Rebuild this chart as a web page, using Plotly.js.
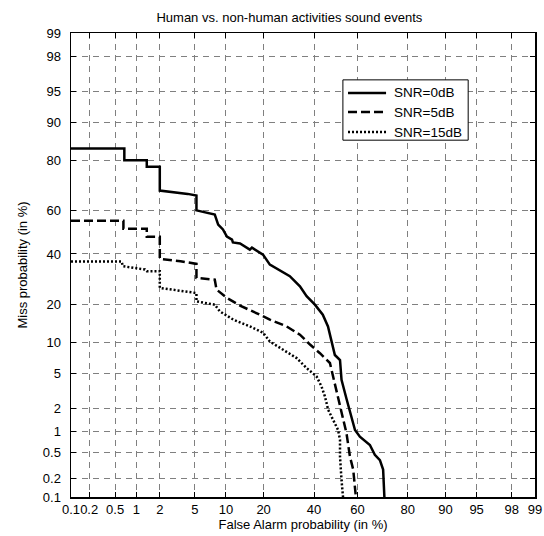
<!DOCTYPE html>
<html>
<head>
<meta charset="utf-8">
<script src="https://cdn.plot.ly/plotly-3.0.1.min.js"></script>
<style>html,body{margin:0;padding:0;background:#fff;}#chart{width:544px;height:536px;}</style>
</head>
<body>
<div id="chart"></div>
<script>
// Tick labels (percent)
const tickValues = [0.1, 0.2, 0.5, 1, 2, 5, 10, 20, 40, 60, 80, 90, 95, 98, 99];
const tickLabels = ["0.1", "0.2", "0.5", "1", "2", "5", "10", "20", "40", "60", "80", "90", "95", "98", "99"];

// SNR=0dB (false alarm %, miss %)
const fa0 = [0.1, 0.68, 0.68, 1.37, 1.37, 2.0, 2.0, 3.0, 4.2, 5.2, 5.2, 7.9, 8.5, 9.4, 10.2, 11.3, 11.5, 13.2, 15.8, 16.4, 18.8, 19.8, 22.1, 29.6, 33.8, 36.7, 40.4, 44.0, 46.4, 48.7, 49.6, 52.0, 52.7, 55.0, 57.3, 58.9, 61.1, 65.5, 67.6, 69.7, 71.0, 71.5];
const miss0 = [83.6, 83.6, 80.0, 80.0, 77.8, 77.8, 68.7, 68.0, 67.3, 66.6, 60.1, 58.2, 53.6, 51.3, 48.0, 46.6, 45.3, 44.8, 42.0, 42.9, 40.6, 39.7, 35.3, 30.4, 26.4, 22.8, 19.9, 16.8, 13.6, 9.2, 7.6, 6.8, 4.25, 2.6, 1.57, 1.05, 0.85, 0.65, 0.47, 0.39, 0.28, 0.1];

// SNR=5dB
const fa5 = [0.1, 0.66, 0.66, 1.37, 1.37, 2.0, 2.0, 3.5, 5.2, 5.2, 7.9, 8.2, 10.1, 13.2, 18.8, 22.1, 28.3, 33.8, 38.2, 42.7, 47.3, 48.8, 50.4, 52.0, 53.5, 55.0, 56.6, 58.1, 59.3];
const miss5 = [55.3, 55.3, 51.6, 51.6, 47.9, 47.9, 37.8, 36.8, 35.6, 29.7, 29.0, 25.2, 22.3, 19.6, 16.8, 15.4, 13.6, 11.6, 9.5, 7.9, 6.35, 4.6, 3.3, 2.1, 1.43, 0.95, 0.44, 0.28, 0.1];

// SNR=15dB
const fa15 = [0.1, 0.62, 0.65, 1.3, 1.37, 2.0, 2.0, 5.2, 5.2, 7.9, 8.8, 11.6, 15.8, 19.9, 22.1, 27.0, 32.4, 36.7, 41.2, 43.4, 45.0, 46.5, 48.1, 49.6, 51.1, 52.0, 52.0, 52.7, 53.4];
const miss15 = [36.7, 36.7, 34.6, 33.2, 32.5, 32.5, 25.8, 23.9, 21.0, 19.9, 17.8, 15.4, 13.6, 12.0, 10.1, 8.5, 7.1, 5.65, 4.6, 3.6, 2.76, 1.91, 1.57, 1.29, 1.05, 0.77, 0.44, 0.19, 0.1];

const seriesNames = ["SNR=0dB", "SNR=5dB", "SNR=15dB"];

// Inverse standard normal CDF (Acklam) for the normal-deviate DET scale
function probit(p) {
  const a = [-3.969683028665376e+01, 2.209460984245205e+02, -2.759285104469687e+02, 1.383577518672690e+02, -3.066479806614716e+01, 2.506628277459239e+00];
  const b = [-5.447609879822406e+01, 1.615858368580409e+02, -1.556989798598866e+02, 6.680131188771972e+01, -1.328068155288572e+01];
  const c = [-7.784894002430293e-03, -3.223964580411365e-01, -2.400758277161838e+00, -2.549732539343734e+00, 4.374664141464968e+00, 2.938163982698783e+00];
  const d = [7.784695709041462e-03, 3.224671290700398e-01, 2.445134137142996e+00, 3.754408661907416e+00];
  const pl = 0.02425, ph = 1 - pl;
  let q, r;
  if (p < pl) {
    q = Math.sqrt(-2 * Math.log(p));
    return (((((c[0]*q+c[1])*q+c[2])*q+c[3])*q+c[4])*q+c[5]) / ((((d[0]*q+d[1])*q+d[2])*q+d[3])*q+1);
  } else if (p <= ph) {
    q = p - 0.5; r = q * q;
    return (((((a[0]*r+a[1])*r+a[2])*r+a[3])*r+a[4])*r+a[5])*q / (((((b[0]*r+b[1])*r+b[2])*r+b[3])*r+b[4])*r+1);
  } else {
    q = Math.sqrt(-2 * Math.log(1 - p));
    return -(((((c[0]*q+c[1])*q+c[2])*q+c[3])*q+c[4])*q+c[5]) / ((((d[0]*q+d[1])*q+d[2])*q+d[3])*q+1);
  }
}
const pct = v => probit(v / 100);

const dashes = ["solid", "9px,4px", "2px,2px"];
const xs = [fa0, fa5, fa15], ys = [miss0, miss5, miss15];
const traces = xs.map((xv, i) => ({
  x: xv.map(pct), y: ys[i].map(pct), type: "scatter", mode: "lines",
  name: seriesNames[i], showlegend: false,
  line: {color: "#000", width: 2.5, dash: dashes[i]},
  hoverinfo: "skip"
}));

const font = "Liberation Sans, Arial, Helvetica, sans-serif";
const axisBase = {
  range: [pct(0.1), pct(99)],
  tickmode: "array",
  tickvals: tickValues.map(pct),
  ticktext: tickLabels,
  tickangle: 0,
  ticks: "inside", ticklen: 5, tickwidth: 1, tickcolor: "#000",
  showline: true, linecolor: "#000", linewidth: 1.5, mirror: "ticks",
  showgrid: true, gridcolor: "#808080", gridwidth: 1, griddash: "6px,5px",
  zeroline: false, fixedrange: true, automargin: false,
  tickfont: {family: font, size: 13, color: "#000"}
};

// Legend drawn as a boxed key in the upper right (paper coordinates)
const legBox = {x0: 0.586, x1: 0.856, y0: 0.769, y1: 0.899};
const legRows = [0.8707, 0.8297, 0.7866];
const shapes = [{type: "rect", xref: "paper", yref: "paper", x0: legBox.x0, x1: legBox.x1, y0: legBox.y0, y1: legBox.y1,
                 fillcolor: "#fff", line: {color: "#000", width: 1}, layer: "above"}];
const annotations = [];
seriesNames.forEach((nm, i) => {
  shapes.push({type: "line", xref: "paper", yref: "paper", x0: 0.597, x1: 0.679, y0: legRows[i], y1: legRows[i],
               line: {color: "#000", width: 2.5, dash: dashes[i]}, layer: "above"});
  annotations.push({xref: "paper", yref: "paper", x: 0.692, y: legRows[i], xanchor: "left", yanchor: "middle",
                    text: nm, showarrow: false, font: {family: font, size: 13.5, color: "#000"}});
});

const layout = {
  width: 544, height: 536,
  margin: {l: 71, r: 9, t: 33, b: 39},
  paper_bgcolor: "#fff", plot_bgcolor: "#fff",
  font: {family: font, size: 13, color: "#000"},
  title: {text: "Human vs. non-human activities sound events", font: {family: font, size: 13, color: "#000"},
          x: 0.532, xref: "container", xanchor: "center", y: 1 - 17/536, yref: "container", yanchor: "middle"},
  xaxis: Object.assign({}, axisBase, {title: {text: "False Alarm probability (in %)", font: {family: font, size: 13}, standoff: 2}}),
  yaxis: Object.assign({}, axisBase, {ticklabelstandoff: 6, title: {text: "Miss probability (in %)", font: {family: font, size: 13}, standoff: 12}}),
  showlegend: false,
  shapes: shapes,
  annotations: annotations
};

Plotly.newPlot("chart", traces, layout, {displayModeBar: false, staticPlot: true});
</script>
</body>
</html>
